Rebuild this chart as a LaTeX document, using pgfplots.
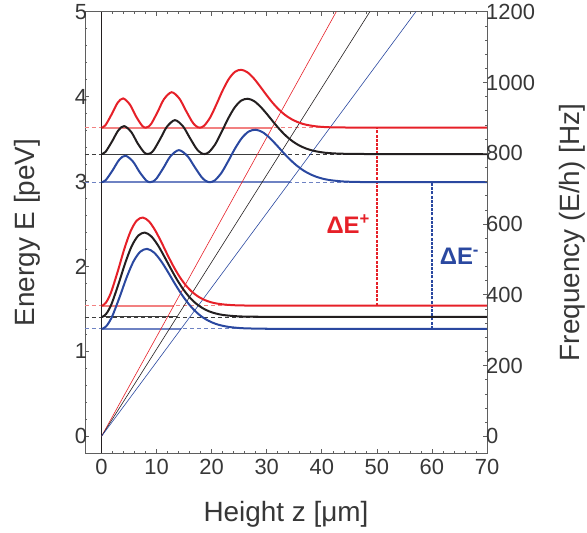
\documentclass[border=0pt]{standalone}
\usepackage{fontspec}
\setmainfont{Liberation Sans}
\usepackage{pgfplots}
\pgfplotsset{compat=1.18}
\definecolor{cred}{RGB}{230,32,40}
\definecolor{cblue}{RGB}{42,72,160}
\definecolor{cblack}{RGB}{35,31,32}
\definecolor{lred}{RGB}{242,128,128}
\definecolor{lblue}{RGB}{110,130,195}
\definecolor{lblack}{RGB}{60,60,60}
\definecolor{axgray}{RGB}{95,95,95}
\definecolor{txt}{RGB}{55,55,55}
\begin{document}
\begin{tikzpicture}
\useasboundingbox (-85bp,-79.7bp) rectangle (502bp,453.3bp);
\begin{axis}[
  at={(0,0)}, anchor=south west,
  width=402bp, height=441.6bp, scale only axis,
  xmin=-3, xmax=70, ymin=-0.2, ymax=5,
  xtick={0,10,...,70}, ytick={0,1,...,5},
  minor x tick num=4, minor y tick num=4,
  ytick pos=left,
  tick align=inside,
  major tick length=4bp, minor tick length=2.5bp,
  axis line style={axgray, line width=0.8pt},
  every tick/.style={axgray, line width=0.6pt},
  tick label style={font=\fontsize{22}{24}\selectfont, text=txt},
  /pgf/number format/assume math mode=true,
  yticklabel style={xshift=5.5bp},
  xticklabel style={yshift=-2.7bp},
  label style={font=\fontsize{28}{30}\selectfont, text=txt},
  xlabel={Height z [μm]},
  ylabel={Energy E [peV]},
  xlabel style={at={(axis description cs:0.5,-0.1375)}, anchor=center},
  ylabel style={at={(axis description cs:-0.143,0.5)}, anchor=center},
  clip=true,
]
% dashed level lines (full width)
\addplot[lred, line width=1.2bp, dash pattern=on 4bp off 3bp] coordinates {(-3,3.635) (70,3.635)};
\addplot[lred, line width=1.2bp, dash pattern=on 4bp off 3bp] coordinates {(-3,1.539) (70,1.539)};
\addplot[lblack, line width=0.6bp, dash pattern=on 4bp off 3bp] coordinates {(-3,3.324) (70,3.324)};
\addplot[lblack, line width=0.6bp, dash pattern=on 4bp off 3bp] coordinates {(-3,1.407) (70,1.407)};
\addplot[lblue, line width=0.8bp, dash pattern=on 4bp off 3bp] coordinates {(-3,2.992) (70,2.992)};
\addplot[lblue, line width=0.8bp, dash pattern=on 4bp off 3bp] coordinates {(-3,1.266) (70,1.266)};
% solid level lines up to turning points
\addplot[lred, line width=2bp] coordinates {(0,3.635) (30.99,3.635)};
\addplot[lred, line width=2bp] coordinates {(0,1.539) (13.12,1.539)};
\addplot[lblack, line width=1bp] coordinates {(0,3.324) (32.40,3.324)};
\addplot[lblack, line width=1bp] coordinates {(0,1.407) (13.71,1.407)};
\addplot[lblue, line width=1.6bp] coordinates {(0,2.992) (34.16,2.992)};
\addplot[lblue, line width=1.6bp] coordinates {(0,1.266) (14.45,1.266)};
% mirror at z=0
\addplot[cblack, line width=0.8bp] coordinates {(0,-0.2) (0,5)};
% gravitational potentials
\addplot[cred, line width=0.6bp] coordinates {(0,0) (42.63,5)};
\addplot[cblack, line width=0.6bp] coordinates {(0,0) (48.73,5)};
\addplot[cblue, line width=0.6bp] coordinates {(0,0) (57.08,5)};
% transition markers
\addplot[cred, line width=1.3bp, dash pattern=on 3bp off 1.2bp] coordinates {(50,1.539) (50,3.635)};
\addplot[cblue, line width=1.3bp, dash pattern=on 3bp off 1.2bp] coordinates {(60,1.266) (60,2.992)};
% ground states
\addplot[cred, line width=2bp, smooth] coordinates {(0,1.539)(0.214,1.541)(0.775,1.572)(1.337,1.635)(1.898,1.726)(3.020,1.958)(4.143,2.207)(5.266,2.413)(6.388,2.540)(7.511,2.576)(8.633,2.530)(9.756,2.424)(10.879,2.285)(12.001,2.135)(13.124,1.994)(14.246,1.872)(15.369,1.773)(16.492,1.698)(17.614,1.643)(18.737,1.605)(19.859,1.579)(20.982,1.563)(22.105,1.553)(23.227,1.547)(24.350,1.543)(27.156,1.539)(29.963,1.539)(70,1.539)};
\addplot[cblack, line width=2bp, smooth] coordinates {(0,1.407)(0.224,1.409)(0.811,1.439)(1.398,1.499)(1.985,1.586)(3.159,1.808)(4.333,2.046)(5.507,2.243)(6.681,2.364)(7.855,2.399)(9.029,2.355)(10.203,2.254)(11.377,2.120)(12.551,1.978)(13.725,1.843)(14.899,1.726)(16.073,1.631)(17.247,1.559)(18.421,1.507)(19.595,1.470)(20.769,1.446)(21.943,1.430)(23.117,1.421)(24.291,1.415)(25.465,1.411)(28.40,1.408)(31.34,1.407)(70,1.407)};
\addplot[cblue, line width=2bp, smooth] coordinates {(0,1.266)(0.236,1.268)(0.854,1.296)(1.473,1.354)(2.092,1.436)(3.329,1.647)(4.567,1.872)(5.804,2.059)(7.041,2.174)(8.279,2.207)(9.516,2.165)(10.754,2.069)(11.991,1.943)(13.228,1.807)(14.466,1.679)(15.703,1.569)(16.941,1.479)(18.178,1.410)(19.415,1.361)(20.653,1.326)(21.890,1.303)(23.128,1.288)(24.365,1.279)(25.602,1.273)(26.840,1.270)(29.933,1.267)(33.026,1.266)(70,1.266)};
% third states
\addplot[cred, line width=2bp, smooth] coordinates {(0,3.635)(0.677,3.660)(1.799,3.787)(2.922,3.927)(3.932,3.979)(5.167,3.905)(6.290,3.765)(7.412,3.654)(8.041,3.635)(8.535,3.647)(9.096,3.687)(10.219,3.824)(11.341,3.970)(12.745,4.052)(14.148,3.976)(15.271,3.842)(16.393,3.711)(16.954,3.665)(17.516,3.639)(17.863,3.635)(18.638,3.657)(19.761,3.758)(20.883,3.911)(22.006,4.074)(23.129,4.209)(24.251,4.293)(25.374,4.316)(26.497,4.286)(27.619,4.217)(28.742,4.125)(29.864,4.027)(30.987,3.934)(32.110,3.854)(33.232,3.789)(34.355,3.740)(35.478,3.704)(36.600,3.678)(37.723,3.662)(38.845,3.651)(39.968,3.644)(41.091,3.640)(42.213,3.638)(45.019,3.636)(47.826,3.635)(70,3.635)};
\addplot[cblack, line width=2bp, smooth] coordinates {(0,3.324)(0.708,3.348)(1.882,3.469)(3.056,3.603)(4.112,3.653)(5.404,3.583)(6.578,3.448)(7.752,3.342)(8.409,3.324)(8.926,3.335)(9.513,3.373)(10.687,3.505)(11.861,3.644)(13.328,3.723)(14.796,3.650)(15.970,3.522)(17.144,3.396)(17.731,3.353)(18.318,3.328)(18.681,3.324)(19.492,3.345)(20.666,3.441)(21.840,3.588)(23.014,3.744)(24.188,3.873)(25.362,3.953)(26.536,3.975)(27.710,3.947)(28.884,3.880)(30.058,3.793)(31.232,3.699)(32.406,3.610)(33.580,3.533)(34.754,3.471)(35.928,3.424)(37.102,3.390)(38.276,3.366)(39.450,3.350)(40.624,3.339)(41.798,3.333)(42.972,3.329)(44.146,3.327)(47.081,3.325)(50.016,3.324)(70,3.324)};
\addplot[cblue, line width=2bp, smooth] coordinates {(0,2.992)(0.746,3.015)(1.983,3.129)(3.221,3.257)(4.334,3.304)(5.695,3.237)(6.933,3.110)(8.170,3.009)(8.864,2.992)(9.408,3.003)(10.026,3.039)(11.264,3.163)(12.501,3.296)(14.048,3.370)(15.595,3.301)(16.832,3.180)(18.069,3.061)(18.688,3.019)(19.307,2.996)(19.690,2.992)(20.544,3.012)(21.782,3.103)(23.019,3.242)(24.256,3.390)(25.494,3.513)(26.731,3.589)(27.969,3.610)(29.206,3.583)(30.443,3.520)(31.681,3.437)(32.918,3.348)(34.156,3.264)(35.393,3.191)(36.630,3.132)(37.868,3.087)(39.105,3.054)(40.343,3.031)(41.580,3.016)(42.817,3.007)(44.055,3.000)(45.292,2.997)(46.530,2.995)(49.623,2.993)(52.715,2.992)(70,2.992)};
\node[font=\bfseries\fontsize{24}{26}\selectfont, text=cred] at (axis cs:44.8,2.50) {ΔE\textsuperscript{+}};
\node[font=\bfseries\fontsize{24}{26}\selectfont, text=cblue] at (axis cs:65.0,2.12) {ΔE\textsuperscript{-}};
\end{axis}
\begin{axis}[
  at={(0,0)}, anchor=south west,
  width=402bp, height=441.6bp, scale only axis,
  xmin=-3, xmax=70, ymin=-48, ymax=1200,
  axis x line=none, axis y line*=right,
  ytick={0,200,...,1200}, minor y tick num=4,
  scaled y ticks=false,
  tick align=inside,
  major tick length=4bp, minor tick length=2.5bp,
  axis line style={axgray, line width=0.8pt, -},
  every tick/.style={axgray, line width=0.6pt},
  tick label style={font=\fontsize{22}{24}\selectfont, text=txt},
  /pgf/number format/assume math mode=true,
  /pgf/number format/1000 sep={},
  yticklabel style={xshift=-4.3bp},
  ylabel={Frequency (E/h) [Hz]},
  label style={font=\fontsize{28}{30}\selectfont, text=txt},
  ylabel style={at={(axis description cs:1.2127,0.5)}, anchor=center, rotate=0},
]
\addplot[draw=none] coordinates {(0,0) (70,1200)};
\end{axis}
\end{tikzpicture}
\end{document}
